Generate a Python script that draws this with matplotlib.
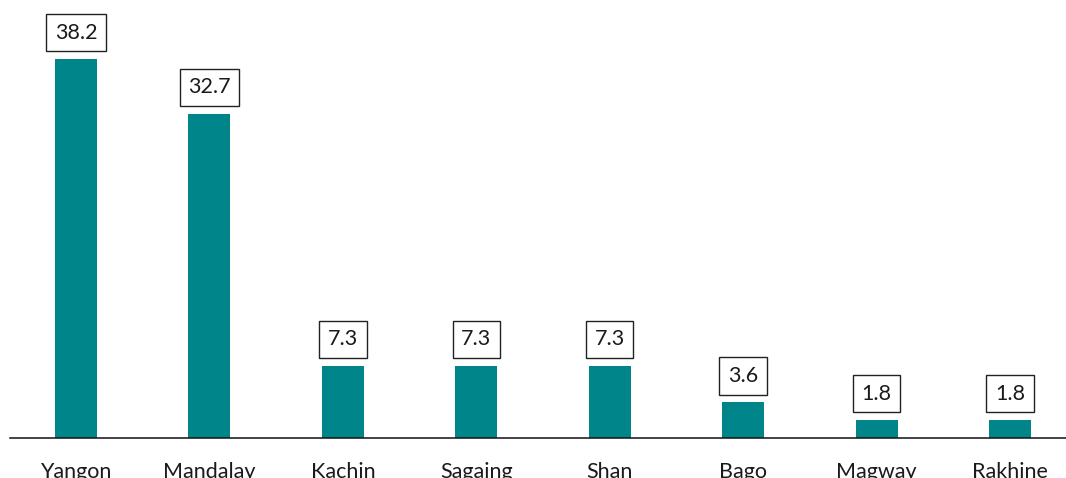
import matplotlib
matplotlib.use("Agg")
import matplotlib.pyplot as plt

categories = ["Yangon", "Mandalay", "Kachin", "Sagaing", "Shan", "Bago", "Magway", "Rakhine"]
values = [38.2, 32.7, 7.3, 7.3, 7.3, 3.6, 1.8, 1.8]
labels = ["38.2", "32.7", "7.3", "7.3", "7.3", "3.6", "1.8", "1.8"]

plt.rcParams['font.family'] = ['Lato', 'DejaVu Sans']

fig = plt.figure(figsize=(10.66, 4.78), dpi=100)
ax = fig.add_axes([10/1066, 40/478, 1056/1066, 438/478])

x = list(range(len(categories)))
ax.bar(x, values, width=0.315, color="#00858A")

for xi, v, lab in zip(x, values, labels):
    ax.annotate(lab, (xi, v), xytext=(0, 19), textcoords="offset points",
                ha="center", va="center", fontsize=15.5, color="#1a1a1a",
                bbox=dict(boxstyle="square,pad=0.4", fc="white", ec="#222222", lw=1.0))

ax.set_xlim(-0.495, 7.42)
ax.set_ylim(0, 44.15)
ax.set_xticks(x)
ax.set_xticklabels(categories, fontsize=15.5, color="#1a1a1a")
ax.tick_params(axis="x", length=0, pad=17)
ax.set_yticks([])
for s in ["left", "right", "top"]:
    ax.spines[s].set_visible(False)
ax.spines["bottom"].set_linewidth(1.1)
ax.spines["bottom"].set_color("#111111")

fig.savefig("out.png", dpi=100)
